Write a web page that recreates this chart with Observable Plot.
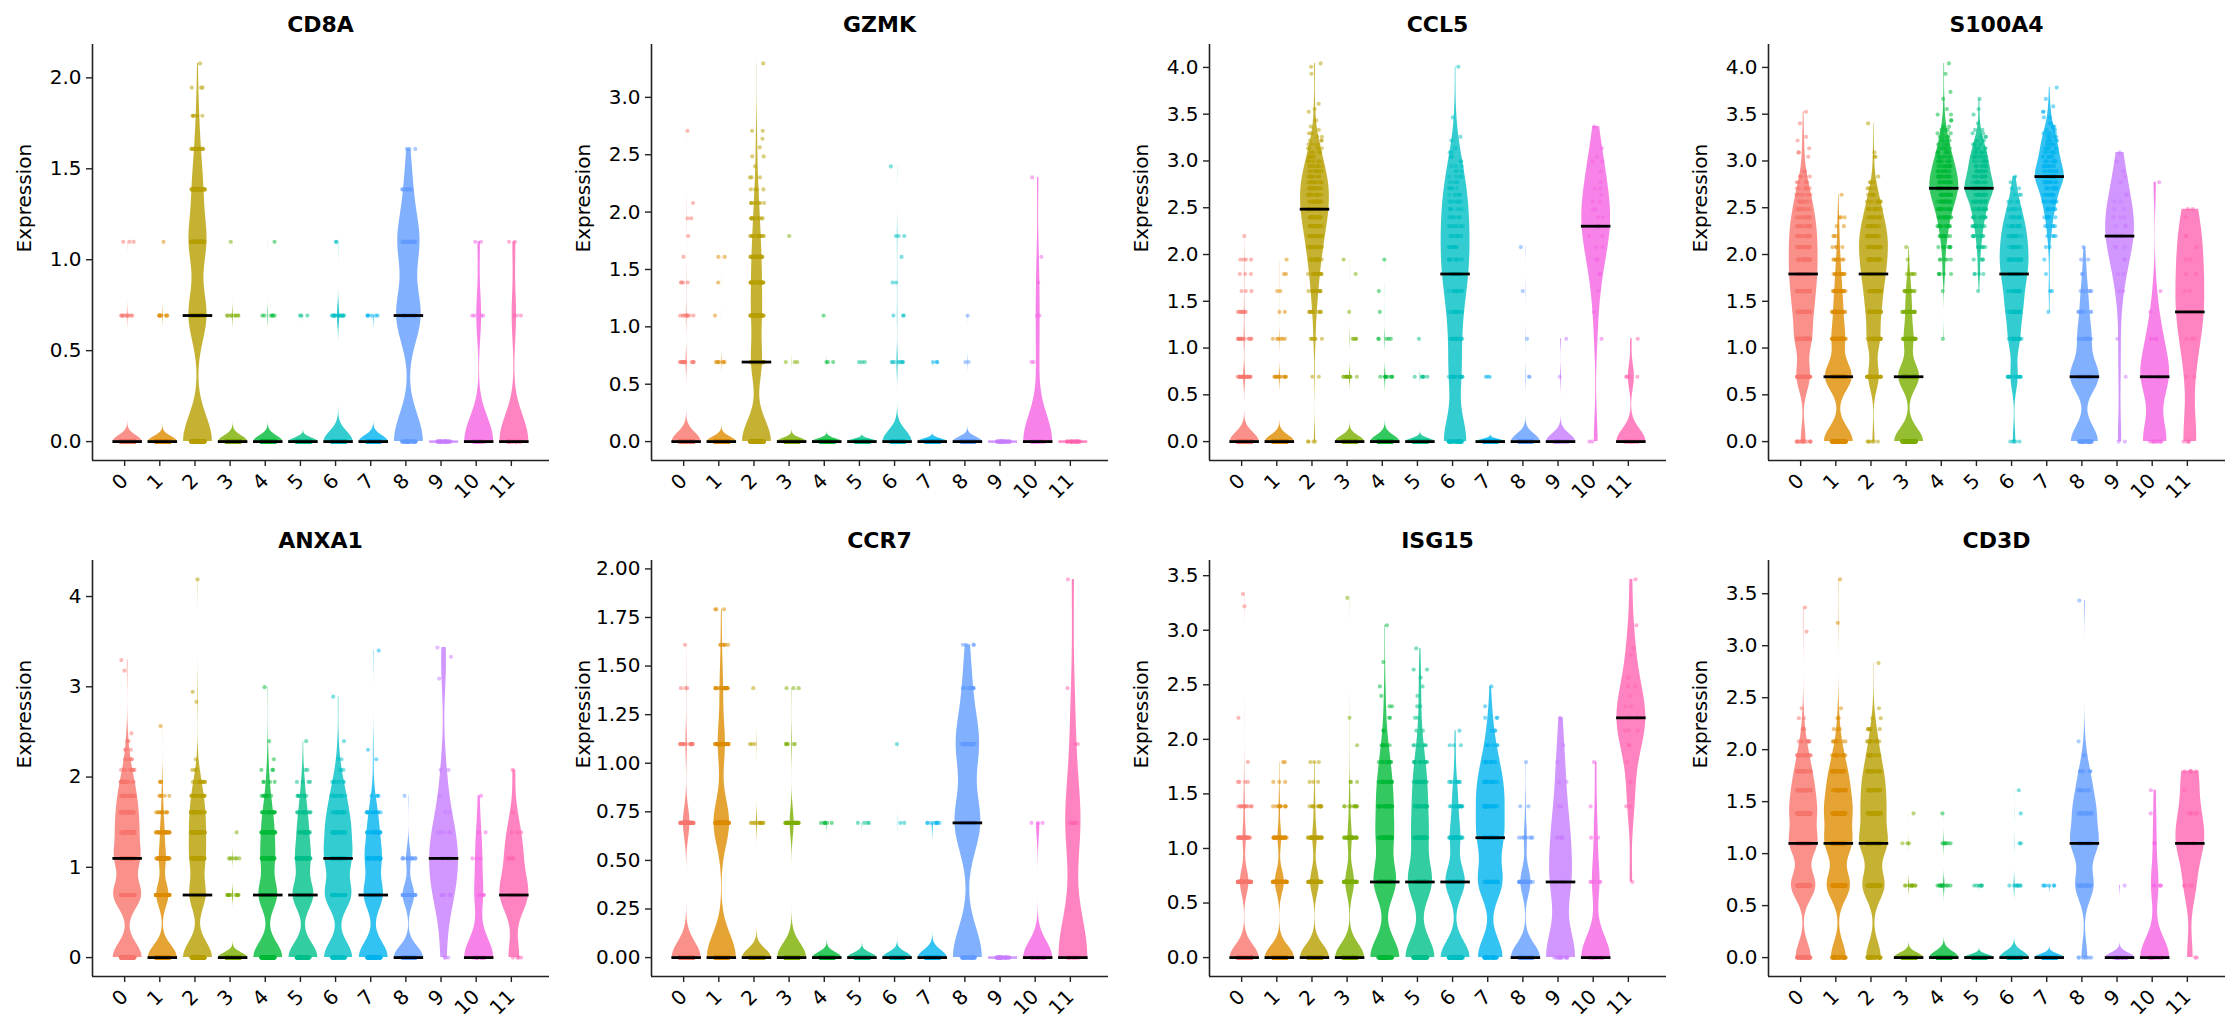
<!DOCTYPE html>
<html>
<head>
<meta charset="utf-8">
<script src="https://cdn.jsdelivr.net/npm/d3@7"></script>
<script src="https://cdn.jsdelivr.net/npm/@observablehq/plot@0.6"></script>
<style>
html, body { margin: 0; padding: 0; background: #fff; }
#root { position: relative; width: 2234px; height: 1035px; font-family: "DejaVu Sans", sans-serif; overflow: hidden; }
.panel { position: absolute; width: 558px; height: 516px; }
.title { position: absolute; top: 10px; left: 92px; width: 457px; height: 30px; line-height: 30px; text-align: center; font-weight: bold; font-size: 22px; color: #000; }
.panel svg { position: absolute; top: 36px; left: 0; overflow: visible; }
</style>
</head>
<body>
<div id="root"></div>
<script>
// helper: run of empty levels (no cells)
const Z = n => new Array(n).fill(0);

const clusters = [0,1,2,3,4,5,6,7,8,9,10,11];
const palette = ["#F8766D","#DE8C00","#B79F00","#7CAE00","#00BA38","#00C08B","#00BFC4","#00B4F0","#619CFF","#C77CFF","#F564E3","#FF64B0"];
const genes = ["CD8A","GZMK","CCL5","S100A4","ANXA1","CCR7","ISG15","CD3D"];

// Each cluster: number of cells at expression level k, value = ln(1+k)
const CD8A = [
  [385,10,3],
  [350,8,1],
  [121,75,70,38,16,6,3,1],
  [290,8,1],
  [250,6,1],
  [237,3],
  [190,15,2],
  [180,6],
  [42,35,30,10,3],
  [35],
  [24,4,2],
  [20,3,2]
];
const GZMK = [
  [367,14,9,4,1,1,2,1,0,0,0,0,0,0,1],
  [350,7,1,1,2],
  [140,50,40,30,22,15,10,8,4,3,1,2,1,1,2,...Z(11),1],
  [296,3,0,0,0,1],
  [256,3,1],
  [237,3],
  [190,8,3,2,1,3,0,0,0,0,1],
  [188,3],
  [117,2,1],
  [35],
  [22,2,2,1,1,0,0,0,0,1],
  [25]
];
const CCL5 = [
  [340,25,14,8,3,3,4,0,1],
  [335,12,6,2,2,2,1],
  [4,2,6,10,14,16,18,20,20,22,22,22,20,20,18,16,14,12,10,8,7,6,5,4,3,2,2,1,1,0,1,0,0,1,1,0,1,...Z(13),1,0,0,0,1,0,1],
  [280,12,4,1,0,1,1],
  [245,10,5,1,1,0,1],
  [234,6,1],
  [44,20,14,12,14,16,12,12,10,9,8,7,7,6,5,4,4,3,3,2,2,2,1,0,1,1,0,0,0,0,0,1,...Z(22),1],
  [188,3],
  [114,2,1,0,1,0,0,1],
  [32,1,1],
  [2,0,1,1,1,2,2,2,2,4,2,2,2,1,2,1,0,1,0,2,1,0,1,0,0,0,0,0,1],
  [19,4,1]
];
const S100A4 = [
  [15,40,45,42,40,38,32,28,25,21,18,14,11,9,7,5,4,2,0,0,1,2,1,0,1,1,0,0,0,1,0,0,0,1],
  [120,110,50,30,18,12,7,4,3,2,3,0,0,1],
  [6,30,34,32,32,34,32,30,28,20,15,12,9,6,4,3,1,0,0,0,2,1,0,0,0,0,0,0,0,1],
  [125,90,40,22,15,6,1,1],
  [0,0,1,0,1,5,5,7,10,12,14,18,20,22,26,20,20,16,14,12,10,8,7,5,5,4,3,3,2,0,2,0,2,0,1,0,0,0,1,0,0,1,...Z(8),1,...Z(5),1],
  [0,0,0,0,1,4,4,6,8,10,12,14,16,18,30,16,15,14,12,10,10,8,6,5,4,3,2,2,0,1,0,0,1,0,1,0,0,0,1],
  [5,14,20,24,22,24,24,18,16,13,10,6,4,3,2,1,1],
  [0,0,0,1,2,1,1,2,4,5,7,8,10,11,12,13,24,12,11,10,9,8,7,6,6,5,4,3,3,2,0,2,0,2,0,1,0,0,1,0,0,0,0,1],
  [40,42,18,9,6,2,2,1],
  [2,1,1,0,2,2,2,3,5,3,3,2,2,2,0,1,1,1,0,1,0,1],
  [10,11,5,1,1,0,0,0,0,0,0,0,0,0,0,1],
  [4,2,3,4,2,2,2,1,2,0,1,2]
];
const ANXA1 = [
  [90,85,70,50,38,27,18,9,5,3,2,1,0,0,0,0,0,0,0,0,0,0,0,1,0,0,1],
  [190,80,45,25,10,5,3,0,0,0,0,0,1],
  [110,60,50,40,30,20,12,3,1,0,0,0,0,0,0,0,1,0,1,...Z(46),1],
  [280,12,6,1],
  [95,60,40,30,18,8,4,3,1,0,1,0,0,0,0,0,0,0,0,1],
  [85,60,40,25,15,7,4,2,0,0,1],
  [50,45,40,30,20,12,7,3,2,0,1,0,0,0,0,0,0,1],
  [70,45,35,20,12,4,0,0,1,1,...Z(19),1],
  [75,30,12,0,0,1],
  [3,8,9,5,2,1,0,2,...Z(13),1,0,0,0,0,0,1,0,0,1],
  [18,5,3,2,0,1],
  [4,10,5,3,1,0,0,1]
];
const CCR7 = [
  [310,70,15,3,1],
  [185,100,45,20,6,3],
  [310,12,3,1],
  [255,35,6,3],
  [255,6],
  [235,4],
  [206,2,1],
  [180,8],
  [40,35,30,10,4],
  [35],
  [26,3],
  [14,7,2,1,0,0,1]
];
const ISG15 = [
  [270,80,30,12,4,1,0,0,1,...Z(15),1,0,0,1],
  [240,75,30,10,3,2],
  [215,65,32,12,3,3],
  [196,60,28,10,3,0,1,0,1,...Z(17),1],
  [80,60,40,30,22,12,8,2,2,2,1,1,0,0,1,0,0,0,0,0,1],
  [75,60,35,25,18,12,6,2,2,2,1,1,1,2,0,0,1],
  [90,60,30,15,8,0,3,1],
  [40,38,35,28,22,12,6,3,3,1,0,1],
  [80,28,8,2,0,1],
  [13,8,6,2,2,1,1,0,1],
  [20,5,2,1,0,1],
  [0,1,0,2,1,1,2,3,4,2,1,2,1,0,0,1,1,0,0,0,1,...Z(10),1]
];
const CD3D = [
  [50,80,85,70,50,30,18,8,3,2,1,...Z(11),1,...Z(5),1],
  [45,70,75,65,45,30,15,7,3,2,1,...Z(13),1,...Z(12),1],
  [40,60,70,50,40,28,15,10,6,2,1,0,0,0,0,0,1],
  [285,10,3,1],
  [240,12,6,1],
  [233,6],
  [198,8,2,1,1],
  [182,6],
  [8,25,35,25,14,8,2,1,...Z(22),1],
  [33,1],
  [20,5,2,1,1],
  [2,4,8,5,1,5]
];
const geneData = [CD8A, GZMK, CCL5, S100A4, ANXA1, CCR7, ISG15, CD3D];

// y tick labels per panel
const yTicks = [
  [0,0.5,1,1.5,2],
  [0,0.5,1,1.5,2,2.5,3],
  [0,0.5,1,1.5,2,2.5,3,3.5,4],
  [0,0.5,1,1.5,2,2.5,3,3.5,4],
  [0,1,2,3,4],
  [0,0.25,0.5,0.75,1,1.25,1.5,1.75,2],
  [0,0.5,1,1.5,2,2.5,3,3.5],
  [0,0.5,1,1.5,2,2.5,3,3.5]
];
const yDigits = [1,1,1,1,0,2,1,1];

const halfViolin = 0.41, halfMedian = 0.42, jitterHalf = 0.2, bwAdjust = 0.75, grid = 160;

function buildPanel(gi) {
  const data = geneData[gi];
  const rows = [], dots = [], meds = [], flats = [];
  let ymax = 0;
  data.forEach((counts, ci) => {
    const vals = [];
    counts.forEach((c, k) => { for (let i = 0; i < c; i++) vals.push(Math.log1p(k)); });
    const mn = d3.min(vals), mx = d3.max(vals);
    ymax = Math.max(ymax, mx);
    const rng = d3.randomLcg(1000 * gi + ci + 7);
    vals.forEach(v => dots.push({c: ci, v, j: (rng() * 2 - 1) * jitterHalf}));
    if (mx === mn) { flats.push({c: ci, v: mx}); return; }
    meds.push({c: ci, m: d3.median(vals)});
    const n = vals.length, sd = d3.deviation(vals);
    const bw = bwAdjust * sd * Math.pow(n, -0.2);
    const levels = counts.map((c, k) => [Math.log1p(k), c]).filter(d => d[1] > 0);
    const ys = d3.range(grid + 1).map(i => mn + (mx - mn) * i / grid).concat(levels.map(l => l[0]));
    ys.sort((a, b) => a - b);
    const pts = ys.map(y => {
      let d = 0;
      for (const [lv, c] of levels) { const z = (y - lv) / bw; d += c * Math.exp(-0.5 * z * z); }
      return {c: ci, y, d};
    });
    const dmax = d3.max(pts, p => p.d);
    pts.forEach(p => { p.w = p.d / dmax; rows.push(p); });
  });
  const yd = [-0.05 * ymax, 1.05 * ymax];
  return Plot.plot({
    width: 558, height: 480,
    marginLeft: 92, marginRight: 9, marginTop: 8, marginBottom: 56,
    x: {domain: [-1, 12]},
    y: {domain: yd},
    color: {type: "ordinal", domain: clusters, range: palette},
    style: {fontFamily: "DejaVu Sans", fontSize: "20px", background: "white", color: "#000"},
    marks: [
      Plot.areaX(rows, {y: "y", x1: d => d.c - halfViolin * d.w, x2: d => d.c + halfViolin * d.w, z: "c", fill: "c", fillOpacity: 0.8, curve: "linear"}),
      Plot.ruleY(flats, {y: "v", x1: d => d.c - halfViolin, x2: d => d.c + halfViolin, stroke: "c", strokeWidth: 2.5, strokeOpacity: 0.8}),
      Plot.dot(dots, {x: d => d.c + d.j, y: "v", r: 2.1, fill: "c", fillOpacity: 0.5}),
      Plot.ruleY(meds, {y: "m", x1: d => d.c - halfMedian, x2: d => d.c + halfMedian, stroke: "black", strokeWidth: 2.8}),
      Plot.ruleX([-1], {stroke: "#222", strokeWidth: 1.6}),
      Plot.ruleY([yd[0]], {stroke: "#222", strokeWidth: 1.6}),
      Plot.axisY(yTicks[gi], {tickFormat: d3.format(`.${yDigits[gi]}f`), tickSize: 6, tickPadding: 5, fontSize: 20, label: null, strokeWidth: 1.4, stroke: "#222"}),
      Plot.axisX(clusters, {tickRotate: -45, tickSize: 6, tickPadding: 11, dx: -3, fontSize: 20, label: null, strokeWidth: 1.4, stroke: "#222"}),
      Plot.text(["Expression"], {frameAnchor: "left", rotate: -90, dx: -68, fontSize: 20})
    ]
  });
}

const root = document.getElementById("root");
genes.forEach((g, gi) => {
  const row = Math.floor(gi / 4), col = gi % 4;
  const panel = document.createElement("div");
  panel.className = "panel";
  panel.style.left = Math.round(558.5 * col) + "px";
  panel.style.top = (516 * row) + "px";
  const t = document.createElement("div");
  t.className = "title";
  t.textContent = g;
  panel.appendChild(t);
  panel.appendChild(buildPanel(gi));
  root.appendChild(panel);
});
</script>
</body>
</html>
